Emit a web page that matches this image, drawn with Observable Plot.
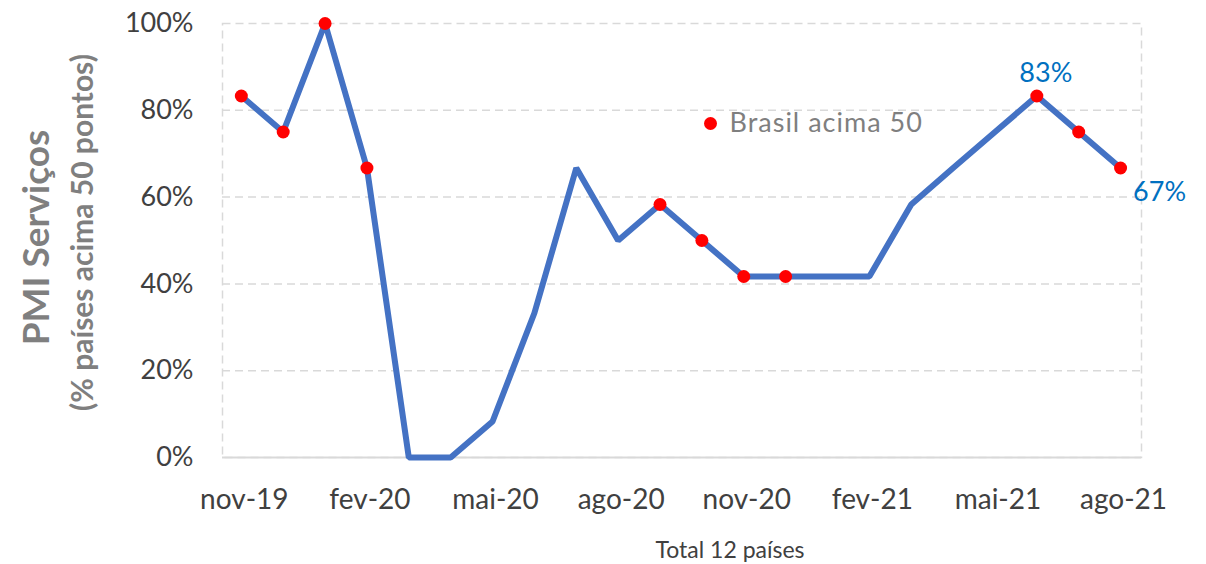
<!DOCTYPE html>
<html>
<head>
<meta charset="utf-8">
<script src="https://cdn.jsdelivr.net/npm/d3@7"></script>
<script src="https://cdn.jsdelivr.net/npm/@observablehq/plot@0.6"></script>
<style>
  html, body { margin: 0; padding: 0; background: #fff; }
  #chart svg { font-family: Lato, "Open Sans", sans-serif; display: block; }
  .legend-text text { letter-spacing: 1px; }
</style>
</head>
<body>
<div id="chart"></div>
<script>
// Data
const months = ["nov-19","dez-19","jan-20","fev-20","mar-20","abr-20","mai-20","jun-20","jul-20","ago-20","set-20","out-20","nov-20","dez-20","jan-21","fev-21","mar-21","abr-21","mai-21","jun-21","jul-21","ago-21"];
const shareAbove50 = [0.833,0.75,1.0,0.667,0,0,0.083,0.333,0.667,0.5,0.583,0.5,0.417,0.417,0.417,0.417,0.583,0.667,0.75,0.833,0.75,0.667];
const brazilAbove50 = [1,1,1,1,0,0,0,0,0,0,1,1,1,1,0,0,0,0,0,1,1,1];
const xTickLabels = ["nov-19","fev-20","mai-20","ago-20","nov-20","fev-21","mai-21","ago-21"];
const yTicks = [0, 0.2, 0.4, 0.6, 0.8, 1.0];
const labelledMonths = ["jun-21", "ago-21"];
const yTitle = "PMI Serviços";
const ySubtitle = "(% países acima 50 pontos)";
const xTitle = "Total 12 países";
const legendLabel = "Brasil acima 50";

const data = months.map((m, i) => ({i, month: m, value: shareAbove50[i], brazil: brazilAbove50[i] === 1}));
const xTicks = xTickLabels.map(l => months.indexOf(l));
const fmt = d3.format(".0%");

const chart = Plot.plot({
  width: 1206,
  height: 564,
  marginLeft: 222,
  marginRight: 65,
  marginTop: 23,
  marginBottom: 107,
  style: {fontFamily: "Lato, 'Open Sans', sans-serif", background: "#fff"},
  x: {type: "linear", domain: [-0.45, months.length - 0.5]},
  y: {domain: [0, 1]},
  marks: [
    Plot.frame({stroke: "#d9d9d9", strokeWidth: 1.5, strokeDasharray: "8,5"}),
    Plot.ruleY(yTicks.filter(t => t > 0 && t < 1), {stroke: "#d9d9d9", strokeWidth: 1.5, strokeDasharray: "8,5"}),
    Plot.ruleY([0], {stroke: "#d9d9d9", strokeWidth: 2}),
    Plot.axisY({ticks: yTicks, tickFormat: fmt, tickSize: 0, tickPadding: 29, fontSize: 27, fill: "#404040", label: null}),
    Plot.axisX({ticks: xTicks, tickFormat: i => months[i], tickSize: 0, tickPadding: 32, fontSize: 28, fill: "#404040", label: null, dx: 3}),
    Plot.line(data, {x: "i", y: "value", stroke: "#4472C4", strokeWidth: 6, strokeLinejoin: "miter", strokeLinecap: "butt"}),
    Plot.dot(data.filter(d => d.brazil), {x: "i", y: "value", r: 6.5, fill: "#ff0000", stroke: null}),
    Plot.text(data.filter(d => d.month === labelledMonths[0]), {x: "i", y: "value", text: d => fmt(d.value), dx: 9, dy: -23, fontSize: 27, fill: "#0070C0"}),
    Plot.text(data.filter(d => d.month === labelledMonths[1]), {x: "i", y: "value", text: d => fmt(d.value), dx: 39, dy: 24, fontSize: 27, fill: "#0070C0"}),
    Plot.dot([legendLabel], {frameAnchor: "top-left", dx: 488, dy: 100, r: 6.5, fill: "#ff0000", stroke: null}),
    Plot.text([legendLabel], {frameAnchor: "top-left", dx: 507, dy: 100, textAnchor: "start", lineAnchor: "middle", fontSize: 27, fill: "#7f7f7f", className: "legend-text"}),
    Plot.text([yTitle], {frameAnchor: "left", rotate: -90, dx: -174, dy: -3, textAnchor: "middle", lineAnchor: "bottom", fontSize: 37, fontWeight: "bold", fill: "#7f7f7f"}),
    Plot.text([ySubtitle], {frameAnchor: "left", rotate: -90, dx: -130, dy: -8, textAnchor: "middle", lineAnchor: "bottom", fontSize: 30, fontWeight: "bold", fill: "#7f7f7f"}),
    Plot.text([xTitle], {frameAnchor: "bottom", dx: 48, dy: 100, textAnchor: "middle", lineAnchor: "bottom", fontSize: 23, fill: "#404040"})
  ]
});
document.getElementById("chart").appendChild(chart);
</script>
</body>
</html>
